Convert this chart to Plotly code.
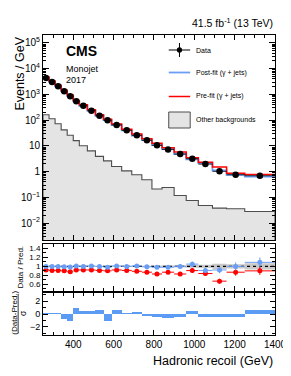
import plotly.graph_objects as go

# ---------------- data ----------------
edges = [250, 280, 310, 340, 370, 400, 430, 470, 510, 550, 590, 640, 690, 740,
         790, 840, 900, 960, 1020, 1090, 1160, 1250, 1400]
data = [4350, 3040, 2070, 1320, 843, 538, 363, 232, 148, 98, 65, 40, 25.6, 16.4,
        10.5, 7.3, 4.8, 3.15, 1.95, 1.02, 0.75, 0.69]
postfit = [4350, 3040, 2070, 1333, 856, 533, 363, 230, 148, 100, 64.4, 40, 25.3,
           16.6, 10.7, 7.45, 4.8, 3.0, 2.14, 1.11, 0.75, 0.633]
prefit = [4728, 3341, 2275, 1467, 958, 585, 395, 252, 163, 109, 70.7, 44, 28.8,
          18.9, 12.65, 8.39, 5.78, 3.48, 2.32, 1.52, 0.86, 0.77]
other = [162, 113, 72, 42, 26, 16, 10.1, 6.4, 3.9, 2.6, 1.58, 1.07, 0.75, 0.48,
         0.21, 0.24, 0.117, 0.075, 0.048, 0.038, 0.036, 0.028]
ratio_post = [1.0, 1.0, 1.0, 0.99, 0.985, 1.01, 1.0, 1.01, 1.0, 0.98, 1.01, 1.0,
              1.01, 0.99, 0.98, 0.98, 1.0, 1.05, 0.91, 0.92, 1.0, 1.09]
ratio_pre = [0.92, 0.91, 0.91, 0.90, 0.88, 0.92, 0.92, 0.92, 0.91, 0.90, 0.92, 0.91,
             0.89, 0.87, 0.83, 0.87, 0.83, 0.906, 0.84, 0.67, 0.87, 0.90]
rel_err = [0.005, 0.005, 0.006, 0.007, 0.008, 0.01, 0.01, 0.012, 0.014, 0.017, 0.018,
           0.022, 0.026, 0.03, 0.035, 0.04, 0.045, 0.055, 0.065, 0.08, 0.09, 0.1]
band_half = [0.008, 0.008, 0.008, 0.008, 0.008, 0.008, 0.009, 0.009, 0.01, 0.01, 0.011,
             0.012, 0.013, 0.015, 0.017, 0.02, 0.025, 0.03, 0.035, 0.06, 0.05, 0.07]
pull = [0.05, 0.1, 0.1, -0.75, -1.1, 0.9, 0.4, 0.4, 0.6, -1.1, 0.6, 0.15, 0.3, -0.3,
        -0.5, -0.6, -0.4, 0.55, -0.5, -0.5, -0.4, 0.6]

centers = [(a + b) / 2 for a, b in zip(edges[:-1], edges[1:])]
halfw = [(b - a) / 2 for a, b in zip(edges[:-1], edges[1:])]
widths = [b - a for a, b in zip(edges[:-1], edges[1:])]

# ---------------- geometry ----------------
W, H = 291, 376
L, R, T, B = 35, 273, 27, 327


def px(x):
    return (x - L) / (R - L)


def py(y):
    return (B - y) / (B - T)


BLUE = "#6a9ef5"
BLUE_BAR = "#5b9bf3"
RED = "#ff0000"
FONT = "Liberation Sans, Arial, Helvetica, sans-serif"

fig = go.Figure()


def step(vals):
    return list(vals) + [vals[-1]]


# other backgrounds (filled)
fig.add_trace(go.Scatter(
    x=[edges[0]] + edges + [edges[-1]],
    y=[1e-5] + step(other) + [1e-5],
    mode="lines", line=dict(shape="hv", color="#4d4d4d", width=1.1),
    fill="toself", fillcolor="#e4e4e4", xaxis="x", yaxis="y", showlegend=False))
# post-fit
fig.add_trace(go.Scatter(x=edges, y=step(postfit), mode="lines",
                         line=dict(shape="hv", color=BLUE, width=1.8),
                         xaxis="x", yaxis="y", showlegend=False))
# pre-fit
fig.add_trace(go.Scatter(x=edges, y=step(prefit), mode="lines",
                         line=dict(shape="hv", color=RED, width=1.5),
                         xaxis="x", yaxis="y", showlegend=False))
# data
fig.add_trace(go.Scatter(
    x=centers, y=data, mode="markers",
    marker=dict(color="black", size=6.5),
    error_y=dict(type="data", array=[d * e for d, e in zip(data, rel_err)],
                 color="black", thickness=1, width=0),
    error_x=dict(type="data", array=halfw, color="black", thickness=0.8, width=0),
    xaxis="x", yaxis="y", showlegend=False))

# ratio band
fig.add_trace(go.Scatter(x=edges, y=step([1 - b for b in band_half]), mode="lines",
                         line=dict(shape="hv", width=0, color="#c8c8c8"),
                         xaxis="x2", yaxis="y2", showlegend=False))
fig.add_trace(go.Scatter(x=edges, y=step([1 + b for b in band_half]), mode="lines",
                         line=dict(shape="hv", width=0, color="#c8c8c8"),
                         fill="tonexty", fillcolor="#c8c8c8",
                         xaxis="x2", yaxis="y2", showlegend=False))
fig.add_trace(go.Scatter(x=[edges[0], edges[-1]], y=[1, 1], mode="lines",
                         line=dict(color="black", width=1.2, dash="dot"),
                         xaxis="x2", yaxis="y2", showlegend=False))
fig.add_trace(go.Scatter(
    x=centers, y=ratio_pre, mode="markers",
    marker=dict(color=RED, size=5),
    error_y=dict(type="data", array=[r * e for r, e in zip(ratio_pre, rel_err)],
                 color=RED, thickness=1, width=0),
    error_x=dict(type="data", array=halfw, color=RED, thickness=1, width=0),
    xaxis="x2", yaxis="y2", showlegend=False))
fig.add_trace(go.Scatter(
    x=centers, y=ratio_post, mode="markers",
    marker=dict(color=BLUE, size=5),
    error_y=dict(type="data", array=[r * e for r, e in zip(ratio_post, rel_err)],
                 color=BLUE, thickness=1, width=0),
    error_x=dict(type="data", array=halfw, color=BLUE, thickness=1, width=0),
    xaxis="x2", yaxis="y2", showlegend=False))

# pull
fig.add_trace(go.Bar(x=centers, y=pull, width=widths,
                     marker=dict(color=BLUE_BAR, line=dict(width=0)),
                     xaxis="x3", yaxis="y3", showlegend=False))

# ---------------- axes ----------------
axcommon = dict(showline=True, linecolor="black", linewidth=1, mirror="ticks",
                ticks="inside", tickcolor="black", showgrid=False, zeroline=False,
                tickfont=dict(family=FONT, size=10, color="black"))
xcommon = dict(axcommon, range=[250, 1400], tickmode="linear", tick0=200, dtick=200,
               ticklen=5, minor=dict(ticks="inside", dtick=50, tick0=0, ticklen=3,
                                     tickcolor="black", showgrid=False))

decs = [1e-2, 1e-1, 1, 10, 1e2, 1e3, 1e4, 1e5]
dec_txt = ["10<sup>−2</sup>", "10<sup>−1</sup>", "1", "10", "10<sup>2</sup>",
           "10<sup>3</sup>", "10<sup>4</sup>", "10<sup>5</sup>"]
minor_vals = [m * 10 ** e for e in range(-3, 6) for m in range(2, 10)]

fig.update_layout(
    width=W, height=H,
    margin=dict(l=L, r=W - R, t=T, b=H - B),
    paper_bgcolor="white", plot_bgcolor="white",
    bargap=0, showlegend=False,
    font=dict(family=FONT, color="black"),
    xaxis=dict(xcommon, domain=[0, 1], anchor="y", showticklabels=False),
    yaxis=dict(axcommon, type="log", domain=[py(232), 1],
               range=[-2.66, 5.31], tickvals=decs, ticktext=dec_txt, ticklen=6,
               minor=dict(ticks="inside", tickvals=minor_vals, ticklen=3,
                          tickcolor="black", showgrid=False)),
    xaxis2=dict(xcommon, domain=[0, 1], anchor="y2", showticklabels=False,
                matches="x"),
    yaxis2=dict(axcommon, domain=[py(283), py(236)], range=[0.45, 1.5],
                tickvals=[0.6, 0.8, 1, 1.2, 1.4],
                ticktext=["0.6", "0.8", "1", "1.2", "1.4"], ticklen=5,
                tickfont=dict(family=FONT, size=8, color="black"),
                minor=dict(ticks="inside", dtick=0.1, ticklen=3,
                           tickcolor="black")),
    xaxis3=dict(xcommon, domain=[0, 1], anchor="y3", matches="x"),
    yaxis3=dict(axcommon, domain=[0, py(285)], range=[-3.3, 3.3],
                tickvals=[-2, 0, 2], ticktext=["−2", "0", "2"], ticklen=5,
                tickfont=dict(family=FONT, size=9, color="black"),
                minor=dict(ticks="inside", dtick=1, ticklen=3, tickcolor="black")),
)

ann = []


def text(x, y, s, size, xanchor="left", yanchor="middle", angle=0, **kw):
    ann.append(dict(x=px(x), y=py(y), xref="paper", yref="paper", text=s,
                    showarrow=False, xanchor=xanchor, yanchor=yanchor,
                    textangle=angle, font=dict(family=FONT, size=size,
                                               color="black"), **kw))


text(R, 14, "41.5 fb<sup>-1</sup> (13 TeV)", 10.5, xanchor="right")
text(57, 43, "<b>CMS</b>", 14)
text(57, 61, "Monojet", 9)
text(57, 72, "2017", 9)
text(11, 27, "Events / GeV", 12.5, xanchor="center", yanchor="top", angle=-90)
text(11, 259, "Data / Pred.", 8, xanchor="center", angle=-90)
text(5, 305, "(Data-Pred.)", 8, xanchor="center", angle=-90)
text(14.5, 305, "σ", 8.5, xanchor="center", angle=-90)
text(R, 353, "Hadronic recoil (GeV)", 12.5, xanchor="right")

# legend
text(190, 42, "Data", 7)
text(190, 64.5, "Post-fit (γ + jets)", 7)
text(190, 88.5, "Pre-fit (γ + jets)", 7)
text(190, 112, "Other backgrounds", 7)

shapes = [
    dict(type="line", xref="paper", yref="paper", x0=px(164), x1=px(186),
         y0=py(42), y1=py(42), line=dict(color="black", width=1)),
    dict(type="line", xref="paper", yref="paper", x0=px(175), x1=px(175),
         y0=py(35), y1=py(49), line=dict(color="black", width=1)),
    dict(type="circle", xref="paper", yref="paper", x0=px(172.3), x1=px(177.7),
         y0=py(39.3), y1=py(44.7), fillcolor="black", line=dict(color="black", width=0)),
    dict(type="line", xref="paper", yref="paper", x0=px(164), x1=px(186),
         y0=py(64.5), y1=py(64.5), line=dict(color=BLUE, width=1.8)),
    dict(type="line", xref="paper", yref="paper", x0=px(164), x1=px(186),
         y0=py(88.5), y1=py(88.5), line=dict(color=RED, width=1.5)),
    dict(type="rect", xref="paper", yref="paper", x0=px(164), x1=px(186),
         y0=py(120), y1=py(104), fillcolor="#e4e4e4",
         line=dict(color="#4d4d4d", width=1)),
    dict(type="line", xref="paper", yref="paper", x0=px(9.5), x1=px(9.5),
         y0=py(286), y1=py(325), line=dict(color="black", width=0.8)),
]

fig.update_layout(annotations=ann, shapes=shapes)
fig.write_html("out.html")
